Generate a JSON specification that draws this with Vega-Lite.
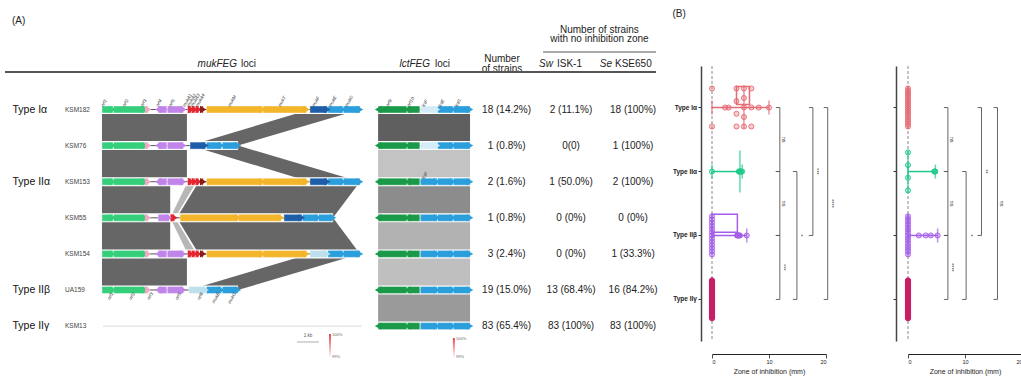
{
"$schema":"https://vega.github.io/schema/vega-lite/v6.json",
"padding":0,
"background":"white",
"config":{"view":{"stroke":null},"font":"Liberation Sans","axis":{"labelOverlap":false,"labelSeparation":0}},
"spacing":12,
"datasets":{
"links":[
{"id":"m1","r":0,"a":0,"b":3.86,"idn":99.8},{"id":"m1","r":1,"a":0,"b":3.86,"idn":99.8},
{"id":"m2","r":0,"a":9.45,"b":11.73,"idn":99.8},{"id":"m2","r":1,"a":4.0,"b":6.18,"idn":99.8},
{"id":"m3","r":1,"a":0,"b":3.86,"idn":99.8},{"id":"m3","r":2,"a":0,"b":3.86,"idn":99.8},
{"id":"m4","r":1,"a":4.0,"b":6.18,"idn":99.8},{"id":"m4","r":2,"a":9.45,"b":11.73,"idn":99.8},
{"id":"m5","r":2,"a":0,"b":3.1,"idn":99.8},{"id":"m5","r":3,"a":0,"b":3.1,"idn":99.8},
{"id":"m6","r":2,"a":3.9,"b":4.3,"idn":98.5},{"id":"m6","r":3,"a":3.1,"b":3.32,"idn":98.5},
{"id":"m7","r":2,"a":4.4,"b":11.73,"idn":99.8},{"id":"m7","r":3,"a":3.4,"b":10.5,"idn":99.8},
{"id":"m8","r":3,"a":0,"b":3.1,"idn":99.8},{"id":"m8","r":4,"a":0,"b":3.1,"idn":99.8},
{"id":"m9","r":3,"a":3.1,"b":3.32,"idn":98.5},{"id":"m9","r":4,"a":3.9,"b":4.3,"idn":98.5},
{"id":"m10","r":3,"a":3.4,"b":10.5,"idn":99.8},{"id":"m10","r":4,"a":4.4,"b":11.73,"idn":99.8},
{"id":"m11","r":4,"a":0,"b":3.86,"idn":99.8},{"id":"m11","r":5,"a":0,"b":3.86,"idn":99.8},
{"id":"m12","r":4,"a":9.45,"b":11.73,"idn":99.8},{"id":"m12","r":5,"a":3.95,"b":6.18,"idn":99.8},
{"id":"l1","r":0,"a":12.55,"b":16.73,"idn":99.92},{"id":"l1","r":1,"a":12.55,"b":16.73,"idn":99.92},
{"id":"l2","r":1,"a":12.55,"b":16.73,"idn":98.32},{"id":"l2","r":2,"a":12.55,"b":16.73,"idn":98.32},
{"id":"l3","r":2,"a":12.55,"b":16.73,"idn":99.17},{"id":"l3","r":3,"a":12.55,"b":16.73,"idn":99.17},
{"id":"l4","r":3,"a":12.55,"b":16.73,"idn":98.57},{"id":"l4","r":4,"a":12.55,"b":16.73,"idn":98.57},
{"id":"l5","r":4,"a":12.55,"b":16.73,"idn":98.38},{"id":"l5","r":5,"a":12.55,"b":16.73,"idn":98.38},
{"id":"l6","r":5,"a":12.55,"b":16.73,"idn":98.95},{"id":"l6","r":6,"a":12.55,"b":16.73,"idn":98.95}
],
"tracks":[
{"r":0,"s":0,"e":11.73,"locus":"muk"},{"r":1,"s":0,"e":6.18,"locus":"muk"},{"r":2,"s":0,"e":11.73,"locus":"muk"},
{"r":3,"s":0,"e":10.5,"locus":"muk"},{"r":4,"s":0,"e":11.73,"locus":"muk"},{"r":5,"s":0,"e":6.18,"locus":"muk"},
{"r":6,"s":0.05,"e":11.8,"locus":"muk"},
{"r":0,"s":12.55,"e":16.73,"locus":"lct"},{"r":1,"s":12.55,"e":16.73,"locus":"lct"},{"r":2,"s":12.55,"e":16.73,"locus":"lct"},
{"r":3,"s":12.55,"e":16.73,"locus":"lct"},{"r":4,"s":12.55,"e":16.73,"locus":"lct"},{"r":5,"s":12.55,"e":16.73,"locus":"lct"},
{"r":6,"s":12.55,"e":16.73,"locus":"lct"}
],
"genes":[
{"r":0,"s":0,"e":0.5,"d":"+","c":"green","lab":"top","name":"orf1"},
{"r":0,"s":0.52,"e":1.95,"d":"+","c":"green","lab":"top","name":"orf2"},
{"r":0,"s":2.0,"e":2.1,"d":"+","c":"pink","lab":"top","name":"orf3"},
{"r":0,"s":2.55,"e":2.95,"d":"-","c":"purple","lab":"top","name":"orf4"},
{"r":0,"s":2.97,"e":3.7,"d":"+","c":"purple","lab":"top","name":"orf5"},
{"r":0,"s":3.9,"e":4.05,"d":"+","c":"red","lab":"top","name":"mukA1"},
{"r":0,"s":4.1,"e":4.22,"d":"+","c":"red","lab":"top","name":"mukA2"},
{"r":0,"s":4.27,"e":4.4,"d":"+","c":"red","lab":"top","name":"mukA3"},
{"r":0,"s":4.52,"e":4.6,"d":"+","c":"darkred","lab":"top","name":"mukA4"},
{"r":0,"s":4.75,"e":7.3,"d":"+","c":"yellow","lab":"top","name":"mukM"},
{"r":0,"s":7.32,"e":9.3,"d":"+","c":"yellow","lab":"top","name":"mukT"},
{"r":0,"s":9.45,"e":10.25,"d":"+","c":"navy","lab":"top","name":"mukF"},
{"r":0,"s":10.27,"e":10.95,"d":"+","c":"blue","lab":"top","name":"mukE"},
{"r":0,"s":10.97,"e":11.73,"d":"+","c":"blue","lab":"top","name":"mukG"},
{"r":1,"s":0,"e":0.5,"d":"+","c":"green"},
{"r":1,"s":0.52,"e":1.95,"d":"+","c":"green"},
{"r":1,"s":2.0,"e":2.1,"d":"+","c":"pink"},
{"r":1,"s":2.55,"e":2.95,"d":"-","c":"purple"},
{"r":1,"s":2.97,"e":3.7,"d":"+","c":"purple"},
{"r":1,"s":4.0,"e":4.71,"d":"+","c":"navy"},
{"r":1,"s":4.75,"e":5.43,"d":"+","c":"blue"},
{"r":1,"s":5.47,"e":6.18,"d":"+","c":"blue"},
{"r":2,"s":0,"e":0.5,"d":"+","c":"green"},
{"r":2,"s":0.52,"e":1.95,"d":"+","c":"green"},
{"r":2,"s":2.0,"e":2.1,"d":"+","c":"pink"},
{"r":2,"s":2.55,"e":2.95,"d":"-","c":"purple"},
{"r":2,"s":2.97,"e":3.7,"d":"+","c":"purple"},
{"r":2,"s":3.9,"e":4.05,"d":"+","c":"red"},
{"r":2,"s":4.1,"e":4.22,"d":"+","c":"red"},
{"r":2,"s":4.27,"e":4.4,"d":"+","c":"red"},
{"r":2,"s":4.52,"e":4.6,"d":"+","c":"darkred"},
{"r":2,"s":4.75,"e":7.3,"d":"+","c":"yellow"},
{"r":2,"s":7.32,"e":9.3,"d":"+","c":"yellow"},
{"r":2,"s":9.45,"e":10.25,"d":"+","c":"navy"},
{"r":2,"s":10.27,"e":10.95,"d":"+","c":"blue"},
{"r":2,"s":10.97,"e":11.73,"d":"+","c":"blue"},
{"r":3,"s":0,"e":0.5,"d":"+","c":"green"},
{"r":3,"s":0.52,"e":1.95,"d":"+","c":"green"},
{"r":3,"s":2.0,"e":2.1,"d":"+","c":"pink"},
{"r":3,"s":2.55,"e":3.05,"d":"+","c":"purple"},
{"r":3,"s":3.1,"e":3.3,"d":"+","c":"red"},
{"r":3,"s":3.55,"e":6.18,"d":"+","c":"yellow"},
{"r":3,"s":6.2,"e":8.14,"d":"+","c":"yellow"},
{"r":3,"s":8.27,"e":9.09,"d":"+","c":"navy"},
{"r":3,"s":9.11,"e":9.82,"d":"+","c":"blue"},
{"r":3,"s":9.84,"e":10.5,"d":"+","c":"blue"},
{"r":4,"s":0,"e":0.5,"d":"+","c":"green"},
{"r":4,"s":0.52,"e":1.95,"d":"+","c":"green"},
{"r":4,"s":2.0,"e":2.1,"d":"+","c":"pink"},
{"r":4,"s":2.55,"e":2.95,"d":"-","c":"purple"},
{"r":4,"s":2.97,"e":3.7,"d":"+","c":"purple"},
{"r":4,"s":3.9,"e":4.05,"d":"+","c":"red"},
{"r":4,"s":4.1,"e":4.22,"d":"+","c":"red"},
{"r":4,"s":4.27,"e":4.4,"d":"+","c":"red"},
{"r":4,"s":4.52,"e":4.6,"d":"+","c":"darkred"},
{"r":4,"s":4.75,"e":7.3,"d":"+","c":"yellow"},
{"r":4,"s":7.32,"e":9.3,"d":"+","c":"yellow"},
{"r":4,"s":9.45,"e":10.25,"d":"+","c":"pale"},
{"r":4,"s":10.27,"e":10.95,"d":"+","c":"blue"},
{"r":4,"s":10.97,"e":11.73,"d":"+","c":"blue"},
{"r":5,"s":0,"e":0.5,"d":"+","c":"green","lab":"bot","name":"orf1"},
{"r":5,"s":0.52,"e":1.95,"d":"+","c":"green","lab":"bot","name":"orf2"},
{"r":5,"s":2.0,"e":2.1,"d":"+","c":"pink","lab":"bot","name":"orf3"},
{"r":5,"s":2.55,"e":2.95,"d":"-","c":"purple"},
{"r":5,"s":2.97,"e":3.7,"d":"+","c":"purple","lab":"bot","name":"orf5"},
{"r":5,"s":3.95,"e":4.71,"d":"+","c":"pale","lab":"bot","name":"orf6"},
{"r":5,"s":4.75,"e":5.43,"d":"+","c":"blue","lab":"bot","name":"mukE"},
{"r":5,"s":5.47,"e":6.18,"d":"+","c":"blue","lab":"bot","name":"mukG"},
{"r":0,"s":12.55,"e":13.86,"d":"-","c":"lctgreen","lab":"top","name":"orf9"},
{"r":0,"s":13.88,"e":14.45,"d":"-","c":"lctgreen","lab":"top","name":"orf10"},
{"r":0,"s":14.47,"e":15.23,"d":"+","c":"hatch","lab":"top","name":"lctF"},
{"r":0,"s":15.25,"e":15.95,"d":"+","c":"blue","lab":"top","name":"lctE"},
{"r":0,"s":15.97,"e":16.73,"d":"+","c":"blue","lab":"top","name":"lctG"},
{"r":1,"s":12.55,"e":13.86,"d":"-","c":"lctgreen"},
{"r":1,"s":13.88,"e":14.45,"d":"-","c":"lctgreen"},
{"r":1,"s":14.47,"e":15.23,"d":"+","c":"hatch"},
{"r":1,"s":15.25,"e":15.95,"d":"+","c":"blue"},
{"r":1,"s":15.97,"e":16.73,"d":"+","c":"blue"},
{"r":2,"s":12.55,"e":13.86,"d":"-","c":"lctgreen"},
{"r":2,"s":13.88,"e":14.45,"d":"-","c":"lctgreen"},
{"r":2,"s":14.47,"e":15.23,"d":"+","c":"blue","lab":"top","name":"lctF"},
{"r":2,"s":15.25,"e":15.95,"d":"+","c":"blue"},
{"r":2,"s":15.97,"e":16.73,"d":"+","c":"blue"},
{"r":3,"s":12.55,"e":13.86,"d":"-","c":"lctgreen"},
{"r":3,"s":13.88,"e":14.45,"d":"-","c":"lctgreen"},
{"r":3,"s":14.47,"e":15.23,"d":"+","c":"blue"},
{"r":3,"s":15.25,"e":15.95,"d":"+","c":"blue"},
{"r":3,"s":15.97,"e":16.73,"d":"+","c":"blue"},
{"r":4,"s":12.55,"e":13.86,"d":"-","c":"lctgreen"},
{"r":4,"s":13.88,"e":14.45,"d":"-","c":"lctgreen"},
{"r":4,"s":14.47,"e":15.23,"d":"+","c":"blue"},
{"r":4,"s":15.25,"e":15.95,"d":"+","c":"blue"},
{"r":4,"s":15.97,"e":16.73,"d":"+","c":"blue"},
{"r":5,"s":12.55,"e":13.86,"d":"-","c":"lctgreen"},
{"r":5,"s":13.88,"e":14.45,"d":"-","c":"lctgreen"},
{"r":5,"s":14.47,"e":15.23,"d":"+","c":"blue"},
{"r":5,"s":15.25,"e":15.95,"d":"+","c":"blue"},
{"r":5,"s":15.97,"e":16.73,"d":"+","c":"blue"},
{"r":6,"s":12.55,"e":13.86,"d":"-","c":"lctgreen"},
{"r":6,"s":13.88,"e":14.45,"d":"-","c":"lctgreen"},
{"r":6,"s":14.47,"e":15.23,"d":"+","c":"blue"},
{"r":6,"s":15.25,"e":15.95,"d":"+","c":"blue"},
{"r":6,"s":15.97,"e":16.73,"d":"+","c":"blue"}
],
"strains":[
{"r":0,"strain":"KSM182","type":"Type Iα","n":"18 (14.2%)","sw":"2 (11.1%)","se":"18 (100%)"},
{"r":1,"strain":"KSM76","type":"","n":"1 (0.8%)","sw":"0(0)","se":"1 (100%)"},
{"r":2,"strain":"KSM153","type":"Type IIα","n":"2 (1.6%)","sw":"1 (50.0%)","se":"2 (100%)"},
{"r":3,"strain":"KSM55","type":"","n":"1 (0.8%)","sw":"0 (0%)","se":"0 (0%)"},
{"r":4,"strain":"KSM154","type":"","n":"3 (2.4%)","sw":"0 (0%)","se":"1 (33.3%)"},
{"r":5,"strain":"UA159","type":"Type IIβ","n":"19 (15.0%)","sw":"13 (68.4%)","se":"16 (84.2%)"},
{"r":6,"strain":"KSM13","type":"Type IIγ","n":"83 (65.4%)","sw":"83 (100%)","se":"83 (100%)"}
],
"brk":[
{"p":"Sw","id":"s1","ya":0,"yb":1,"x":11.9,"lab":"ns"},
{"p":"Sw","id":"s2","ya":1,"yb":2,"x":11.9,"lab":"ns"},
{"p":"Sw","id":"s3","ya":2,"yb":3,"x":11.9,"lab":"***"},
{"p":"Sw","id":"s4","ya":1,"yb":3,"x":14.9,"lab":"*"},
{"p":"Sw","id":"s5","ya":0,"yb":2,"x":17.7,"lab":"***"},
{"p":"Sw","id":"s6","ya":0,"yb":3,"x":20.3,"lab":"****"},
{"p":"Se","id":"e1","ya":0,"yb":1,"x":7.0,"lab":"ns"},
{"p":"Se","id":"e2","ya":1,"yb":2,"x":7.0,"lab":"ns"},
{"p":"Se","id":"e3","ya":2,"yb":3,"x":7.0,"lab":"****"},
{"p":"Se","id":"e4","ya":1,"yb":3,"x":10.2,"lab":"*"},
{"p":"Se","id":"e5","ya":0,"yb":2,"x":12.9,"lab":"**"},
{"p":"Se","id":"e6","ya":0,"yb":3,"x":15.7,"lab":"ns"}
],
"pts":[
{"p":"Sw","g":"Type Iα","v":0},{"p":"Sw","g":"Type Iα","v":0},{"p":"Sw","g":"Type Iα","v":2.3},{"p":"Sw","g":"Type Iα","v":2.9},
{"p":"Sw","g":"Type Iα","v":4.3},{"p":"Sw","g":"Type Iα","v":4.3},{"p":"Sw","g":"Type Iα","v":4.3},{"p":"Sw","g":"Type Iα","v":4.3},
{"p":"Sw","g":"Type Iα","v":5.6},{"p":"Sw","g":"Type Iα","v":5.6},{"p":"Sw","g":"Type Iα","v":5.6},{"p":"Sw","g":"Type Iα","v":5.6},{"p":"Sw","g":"Type Iα","v":5.6},
{"p":"Sw","g":"Type Iα","v":6.9},{"p":"Sw","g":"Type Iα","v":6.9},{"p":"Sw","g":"Type Iα","v":6.9},{"p":"Sw","g":"Type Iα","v":8.2},{"p":"Sw","g":"Type Iα","v":10.0},
{"p":"Sw","g":"Type IIα","v":0},{"p":"Sw","g":"Type IIα","v":4.7},{"p":"Sw","g":"Type IIα","v":4.8},{"p":"Sw","g":"Type IIα","v":4.9},{"p":"Sw","g":"Type IIα","v":5.0},{"p":"Sw","g":"Type IIα","v":5.1},{"p":"Sw","g":"Type IIα","v":5.3},
{"p":"Sw","g":"Type IIβ","v":0},{"p":"Sw","g":"Type IIβ","v":0},{"p":"Sw","g":"Type IIβ","v":0},{"p":"Sw","g":"Type IIβ","v":0},{"p":"Sw","g":"Type IIβ","v":0},
{"p":"Sw","g":"Type IIβ","v":0},{"p":"Sw","g":"Type IIβ","v":0},{"p":"Sw","g":"Type IIβ","v":0},{"p":"Sw","g":"Type IIβ","v":0},{"p":"Sw","g":"Type IIβ","v":0},
{"p":"Sw","g":"Type IIβ","v":0},{"p":"Sw","g":"Type IIβ","v":0},{"p":"Sw","g":"Type IIβ","v":0},
{"p":"Sw","g":"Type IIβ","v":4.4},{"p":"Sw","g":"Type IIβ","v":4.5},{"p":"Sw","g":"Type IIβ","v":4.6},{"p":"Sw","g":"Type IIβ","v":4.8},{"p":"Sw","g":"Type IIβ","v":4.9},{"p":"Sw","g":"Type IIβ","v":6.1},
{"p":"Sw","g":"Type IIγ","v":0},{"p":"Sw","g":"Type IIγ","v":0},{"p":"Sw","g":"Type IIγ","v":0},{"p":"Sw","g":"Type IIγ","v":0},{"p":"Sw","g":"Type IIγ","v":0},{"p":"Sw","g":"Type IIγ","v":0},{"p":"Sw","g":"Type IIγ","v":0},{"p":"Sw","g":"Type IIγ","v":0},{"p":"Sw","g":"Type IIγ","v":0},{"p":"Sw","g":"Type IIγ","v":0},
{"p":"Sw","g":"Type IIγ","v":0},{"p":"Sw","g":"Type IIγ","v":0},{"p":"Sw","g":"Type IIγ","v":0},{"p":"Sw","g":"Type IIγ","v":0},{"p":"Sw","g":"Type IIγ","v":0},{"p":"Sw","g":"Type IIγ","v":0},{"p":"Sw","g":"Type IIγ","v":0},{"p":"Sw","g":"Type IIγ","v":0},{"p":"Sw","g":"Type IIγ","v":0},{"p":"Sw","g":"Type IIγ","v":0},
{"p":"Sw","g":"Type IIγ","v":0},{"p":"Sw","g":"Type IIγ","v":0},{"p":"Sw","g":"Type IIγ","v":0},{"p":"Sw","g":"Type IIγ","v":0},{"p":"Sw","g":"Type IIγ","v":0},{"p":"Sw","g":"Type IIγ","v":0},{"p":"Sw","g":"Type IIγ","v":0},{"p":"Sw","g":"Type IIγ","v":0},{"p":"Sw","g":"Type IIγ","v":0},{"p":"Sw","g":"Type IIγ","v":0},
{"p":"Sw","g":"Type IIγ","v":0},{"p":"Sw","g":"Type IIγ","v":0},{"p":"Sw","g":"Type IIγ","v":0},{"p":"Sw","g":"Type IIγ","v":0},{"p":"Sw","g":"Type IIγ","v":0},{"p":"Sw","g":"Type IIγ","v":0},{"p":"Sw","g":"Type IIγ","v":0},{"p":"Sw","g":"Type IIγ","v":0},{"p":"Sw","g":"Type IIγ","v":0},{"p":"Sw","g":"Type IIγ","v":0},
{"p":"Sw","g":"Type IIγ","v":0},{"p":"Sw","g":"Type IIγ","v":0},{"p":"Sw","g":"Type IIγ","v":0},{"p":"Sw","g":"Type IIγ","v":0},{"p":"Sw","g":"Type IIγ","v":0},{"p":"Sw","g":"Type IIγ","v":0},{"p":"Sw","g":"Type IIγ","v":0},{"p":"Sw","g":"Type IIγ","v":0},{"p":"Sw","g":"Type IIγ","v":0},{"p":"Sw","g":"Type IIγ","v":0},
{"p":"Sw","g":"Type IIγ","v":0},{"p":"Sw","g":"Type IIγ","v":0},{"p":"Sw","g":"Type IIγ","v":0},{"p":"Sw","g":"Type IIγ","v":0},{"p":"Sw","g":"Type IIγ","v":0},{"p":"Sw","g":"Type IIγ","v":0},{"p":"Sw","g":"Type IIγ","v":0},{"p":"Sw","g":"Type IIγ","v":0},{"p":"Sw","g":"Type IIγ","v":0},{"p":"Sw","g":"Type IIγ","v":0},
{"p":"Sw","g":"Type IIγ","v":0},{"p":"Sw","g":"Type IIγ","v":0},{"p":"Sw","g":"Type IIγ","v":0},{"p":"Sw","g":"Type IIγ","v":0},{"p":"Sw","g":"Type IIγ","v":0},{"p":"Sw","g":"Type IIγ","v":0},{"p":"Sw","g":"Type IIγ","v":0},{"p":"Sw","g":"Type IIγ","v":0},{"p":"Sw","g":"Type IIγ","v":0},{"p":"Sw","g":"Type IIγ","v":0},
{"p":"Sw","g":"Type IIγ","v":0},{"p":"Sw","g":"Type IIγ","v":0},{"p":"Sw","g":"Type IIγ","v":0},
{"p":"Se","g":"Type Iα","v":0},{"p":"Se","g":"Type Iα","v":0},{"p":"Se","g":"Type Iα","v":0},{"p":"Se","g":"Type Iα","v":0},{"p":"Se","g":"Type Iα","v":0},{"p":"Se","g":"Type Iα","v":0},
{"p":"Se","g":"Type Iα","v":0},{"p":"Se","g":"Type Iα","v":0},{"p":"Se","g":"Type Iα","v":0},{"p":"Se","g":"Type Iα","v":0},{"p":"Se","g":"Type Iα","v":0},{"p":"Se","g":"Type Iα","v":0},
{"p":"Se","g":"Type Iα","v":0},{"p":"Se","g":"Type Iα","v":0},{"p":"Se","g":"Type Iα","v":0},{"p":"Se","g":"Type Iα","v":0},{"p":"Se","g":"Type Iα","v":0},{"p":"Se","g":"Type Iα","v":0},
{"p":"Se","g":"Type IIα","v":0},{"p":"Se","g":"Type IIα","v":0},{"p":"Se","g":"Type IIα","v":0},{"p":"Se","g":"Type IIα","v":0},{"p":"Se","g":"Type IIα","v":4.6},{"p":"Se","g":"Type IIα","v":4.7},{"p":"Se","g":"Type IIα","v":4.8},
{"p":"Se","g":"Type IIβ","v":0},{"p":"Se","g":"Type IIβ","v":0},{"p":"Se","g":"Type IIβ","v":0},{"p":"Se","g":"Type IIβ","v":0},{"p":"Se","g":"Type IIβ","v":0},
{"p":"Se","g":"Type IIβ","v":0},{"p":"Se","g":"Type IIβ","v":0},{"p":"Se","g":"Type IIβ","v":0},{"p":"Se","g":"Type IIβ","v":0},{"p":"Se","g":"Type IIβ","v":0},
{"p":"Se","g":"Type IIβ","v":0},{"p":"Se","g":"Type IIβ","v":0},{"p":"Se","g":"Type IIβ","v":0},{"p":"Se","g":"Type IIβ","v":0},{"p":"Se","g":"Type IIβ","v":0},
{"p":"Se","g":"Type IIβ","v":1.9},{"p":"Se","g":"Type IIβ","v":3.1},{"p":"Se","g":"Type IIβ","v":4.0},{"p":"Se","g":"Type IIβ","v":5.2},
{"p":"Se","g":"Type IIγ","v":0},{"p":"Se","g":"Type IIγ","v":0},{"p":"Se","g":"Type IIγ","v":0},{"p":"Se","g":"Type IIγ","v":0},{"p":"Se","g":"Type IIγ","v":0},{"p":"Se","g":"Type IIγ","v":0},{"p":"Se","g":"Type IIγ","v":0},{"p":"Se","g":"Type IIγ","v":0},{"p":"Se","g":"Type IIγ","v":0},{"p":"Se","g":"Type IIγ","v":0},
{"p":"Se","g":"Type IIγ","v":0},{"p":"Se","g":"Type IIγ","v":0},{"p":"Se","g":"Type IIγ","v":0},{"p":"Se","g":"Type IIγ","v":0},{"p":"Se","g":"Type IIγ","v":0},{"p":"Se","g":"Type IIγ","v":0},{"p":"Se","g":"Type IIγ","v":0},{"p":"Se","g":"Type IIγ","v":0},{"p":"Se","g":"Type IIγ","v":0},{"p":"Se","g":"Type IIγ","v":0},
{"p":"Se","g":"Type IIγ","v":0},{"p":"Se","g":"Type IIγ","v":0},{"p":"Se","g":"Type IIγ","v":0},{"p":"Se","g":"Type IIγ","v":0},{"p":"Se","g":"Type IIγ","v":0},{"p":"Se","g":"Type IIγ","v":0},{"p":"Se","g":"Type IIγ","v":0},{"p":"Se","g":"Type IIγ","v":0},{"p":"Se","g":"Type IIγ","v":0},{"p":"Se","g":"Type IIγ","v":0},
{"p":"Se","g":"Type IIγ","v":0},{"p":"Se","g":"Type IIγ","v":0},{"p":"Se","g":"Type IIγ","v":0},{"p":"Se","g":"Type IIγ","v":0},{"p":"Se","g":"Type IIγ","v":0},{"p":"Se","g":"Type IIγ","v":0},{"p":"Se","g":"Type IIγ","v":0},{"p":"Se","g":"Type IIγ","v":0},{"p":"Se","g":"Type IIγ","v":0},{"p":"Se","g":"Type IIγ","v":0},
{"p":"Se","g":"Type IIγ","v":0},{"p":"Se","g":"Type IIγ","v":0},{"p":"Se","g":"Type IIγ","v":0},{"p":"Se","g":"Type IIγ","v":0},{"p":"Se","g":"Type IIγ","v":0},{"p":"Se","g":"Type IIγ","v":0},{"p":"Se","g":"Type IIγ","v":0},{"p":"Se","g":"Type IIγ","v":0},{"p":"Se","g":"Type IIγ","v":0},{"p":"Se","g":"Type IIγ","v":0},
{"p":"Se","g":"Type IIγ","v":0},{"p":"Se","g":"Type IIγ","v":0},{"p":"Se","g":"Type IIγ","v":0},{"p":"Se","g":"Type IIγ","v":0},{"p":"Se","g":"Type IIγ","v":0},{"p":"Se","g":"Type IIγ","v":0},{"p":"Se","g":"Type IIγ","v":0},{"p":"Se","g":"Type IIγ","v":0},{"p":"Se","g":"Type IIγ","v":0},{"p":"Se","g":"Type IIγ","v":0},
{"p":"Se","g":"Type IIγ","v":0},{"p":"Se","g":"Type IIγ","v":0},{"p":"Se","g":"Type IIγ","v":0},{"p":"Se","g":"Type IIγ","v":0},{"p":"Se","g":"Type IIγ","v":0},{"p":"Se","g":"Type IIγ","v":0},{"p":"Se","g":"Type IIγ","v":0},{"p":"Se","g":"Type IIγ","v":0},{"p":"Se","g":"Type IIγ","v":0},{"p":"Se","g":"Type IIγ","v":0},
{"p":"Se","g":"Type IIγ","v":0},{"p":"Se","g":"Type IIγ","v":0},{"p":"Se","g":"Type IIγ","v":0},{"p":"Se","g":"Type IIγ","v":0},{"p":"Se","g":"Type IIγ","v":0},{"p":"Se","g":"Type IIγ","v":0},{"p":"Se","g":"Type IIγ","v":0},{"p":"Se","g":"Type IIγ","v":0},{"p":"Se","g":"Type IIγ","v":0},{"p":"Se","g":"Type IIγ","v":0},
{"p":"Se","g":"Type IIγ","v":0},{"p":"Se","g":"Type IIγ","v":0},{"p":"Se","g":"Type IIγ","v":0}
]
},
"hconcat":[
{
"width":660,"height":315,
"layer":[
{"data":{"name":"links"},"mark":{"type":"area","orient":"horizontal"},
 "encoding":{
  "y":{"field":"r","type":"quantitative","scale":{"domain":[-1.205,7.5208],"reverse":true,"nice":false,"zero":false},"axis":null},
  "x":{"field":"a","type":"quantitative","scale":{"domain":[-4.636,25.364],"nice":false,"zero":false},"axis":null},
  "x2":{"field":"b"},
  "detail":{"field":"id"},
  "color":{"field":"idn","type":"quantitative","scale":{"domain":[98,100],"range":["#d8d8d8","#5a5a5a"]},"legend":null}}},
{"data":{"name":"tracks"},"mark":{"type":"rule","strokeWidth":9,"color":"white"},
 "encoding":{"y":{"field":"r","type":"quantitative"},"x":{"field":"s","type":"quantitative"},"x2":{"field":"e"}}},
{"data":{"name":"tracks"},"mark":{"type":"rule","strokeWidth":1},
 "encoding":{"y":{"field":"r","type":"quantitative"},"x":{"field":"s","type":"quantitative"},"x2":{"field":"e"},
  "color":{"condition":{"test":"datum.r === 6 && datum.locus === 'muk'","value":"#d9d9d9"},"value":"#555555"}}},
{"data":{"name":"genes"},"mark":{"type":"rect","height":7,"stroke":"white","strokeWidth":0.4},
 "encoding":{"y":{"field":"r","type":"quantitative"},"x":{"field":"s","type":"quantitative"},"x2":{"field":"e"},
  "fill":{"field":"c","type":"nominal","scale":{"domain":["green","pink","purple","red","darkred","yellow","navy","blue","pale","lctgreen","hatch"],"range":["#35cf7c","#f2a7c3","#c084ea","#e3262f","#8b1a1a","#f3b52a","#1e5ea8","#2b9fdc","#bde0ec","#1a9a48","#d4ecf7"]},"legend":null}}},
{"data":{"name":"genes"},"transform":[{"filter":"datum.d === '+'"}],"mark":{"type":"point","shape":"triangle-right","filled":true,"size":55,"opacity":1,"strokeWidth":0},
 "encoding":{"y":{"field":"r","type":"quantitative"},"x":{"field":"e","type":"quantitative"},"fill":{"field":"c","type":"nominal","legend":null}}},
{"data":{"name":"genes"},"transform":[{"filter":"datum.d === '-'"}],"mark":{"type":"point","shape":"triangle-left","filled":true,"size":55,"opacity":1,"strokeWidth":0},
 "encoding":{"y":{"field":"r","type":"quantitative"},"x":{"field":"s","type":"quantitative"},"fill":{"field":"c","type":"nominal","legend":null}}},
{"data":{"name":"genes"},"transform":[{"filter":"datum.lab === 'top'"},{"fold":["s","e"],"as":["k","pos"]}],
 "mark":{"type":"text","angle":-60,"align":"left","baseline":"middle","dy":-6,"fontSize":4.5,"fontStyle":"italic","color":"#333"},
 "encoding":{"x":{"aggregate":"mean","field":"pos","type":"quantitative"},"y":{"field":"r","type":"quantitative"},"text":{"field":"name"},"detail":{"field":"name"}}},
{"data":{"name":"genes"},"transform":[{"filter":"datum.lab === 'bot'"},{"fold":["s","e"],"as":["k","pos"]}],
 "mark":{"type":"text","angle":-60,"align":"right","baseline":"middle","dy":6,"fontSize":4.5,"fontStyle":"italic","color":"#333"},
 "encoding":{"x":{"aggregate":"mean","field":"pos","type":"quantitative"},"y":{"field":"r","type":"quantitative"},"text":{"field":"name"},"detail":{"field":"name"}}},
{"data":{"name":"strains"},"transform":[{"filter":"datum.type !== ''"}],"mark":{"type":"text","align":"left","baseline":"middle","fontSize":10.5,"color":"#111"},
 "encoding":{"x":{"datum":-4.07},"y":{"field":"r","type":"quantitative"},"text":{"field":"type"}}},
{"data":{"name":"strains"},"mark":{"type":"text","align":"left","baseline":"middle","fontSize":6.5,"color":"#444"},
 "encoding":{"x":{"datum":-1.68},"y":{"field":"r","type":"quantitative"},"text":{"field":"strain"}}},
{"data":{"name":"strains"},"mark":{"type":"text","align":"center","baseline":"middle","fontSize":10,"color":"#222"},
 "encoding":{"x":{"datum":18.39},"y":{"field":"r","type":"quantitative"},"text":{"field":"n"}}},
{"data":{"name":"strains"},"mark":{"type":"text","align":"center","baseline":"middle","fontSize":10,"color":"#222"},
 "encoding":{"x":{"datum":21.32},"y":{"field":"r","type":"quantitative"},"text":{"field":"sw"}}},
{"data":{"name":"strains"},"mark":{"type":"text","align":"center","baseline":"middle","fontSize":10,"color":"#222"},
 "encoding":{"x":{"datum":24.14},"y":{"field":"r","type":"quantitative"},"text":{"field":"se"}}},
{"data":{"values":[{}]},"mark":{"type":"text","text":"(A)","align":"left","baseline":"middle","fontSize":10,"color":"#222"},
 "encoding":{"x":{"datum":-4.09},"y":{"datum":-2.452}}},
{"data":{"values":[{}]},"mark":{"type":"text","text":"mukFEG","align":"right","baseline":"middle","fontSize":10,"fontStyle":"italic","color":"#222"},
 "encoding":{"x":{"datum":6.14},"y":{"datum":-1.26}}},
{"data":{"values":[{}]},"mark":{"type":"text","text":"loci","align":"left","baseline":"middle","fontSize":10,"color":"#222"},
 "encoding":{"x":{"datum":6.32},"y":{"datum":-1.26}}},
{"data":{"values":[{}]},"mark":{"type":"text","text":"lctFEG","align":"right","baseline":"middle","fontSize":10,"fontStyle":"italic","color":"#222"},
 "encoding":{"x":{"datum":14.91},"y":{"datum":-1.26}}},
{"data":{"values":[{}]},"mark":{"type":"text","text":"loci","align":"left","baseline":"middle","fontSize":10,"color":"#222"},
 "encoding":{"x":{"datum":15.14},"y":{"datum":-1.26}}},
{"data":{"values":[{}]},"mark":{"type":"text","text":["Number","of strains"],"lineHeight":10.5,"align":"center","baseline":"middle","fontSize":10,"color":"#222"},
 "encoding":{"x":{"datum":18.18},"y":{"datum":-1.41}}},
{"data":{"values":[{}]},"mark":{"type":"text","text":["Number of strains","with no inhibition zone"],"lineHeight":9,"align":"center","baseline":"middle","fontSize":10,"color":"#222"},
 "encoding":{"x":{"datum":22.61},"y":{"datum":-2.2}}},
{"data":{"values":[{}]},"mark":{"type":"text","text":"Sw","align":"right","baseline":"middle","fontSize":10,"fontStyle":"italic","color":"#222"},
 "encoding":{"x":{"datum":20.5},"y":{"datum":-1.26}}},
{"data":{"values":[{}]},"mark":{"type":"text","text":"ISK-1","align":"left","baseline":"middle","fontSize":10,"color":"#222"},
 "encoding":{"x":{"datum":20.68},"y":{"datum":-1.26}}},
{"data":{"values":[{}]},"mark":{"type":"text","text":"Se","align":"right","baseline":"middle","fontSize":10,"fontStyle":"italic","color":"#222"},
 "encoding":{"x":{"datum":23.18},"y":{"datum":-1.26}}},
{"data":{"values":[{}]},"mark":{"type":"text","text":"KSE650","align":"left","baseline":"middle","fontSize":10,"color":"#222"},
 "encoding":{"x":{"datum":23.32},"y":{"datum":-1.26}}},
{"data":{"values":[{}]},"mark":{"type":"rule","strokeWidth":2,"color":"#555555"},
 "encoding":{"x":{"datum":-4.41},"x2":{"datum":25.18},"y":{"datum":-1.039}}},
{"data":{"values":[{}]},"mark":{"type":"rule","strokeWidth":1.2,"color":"#555555"},
 "encoding":{"x":{"datum":20.05},"x2":{"datum":25.18},"y":{"datum":-1.593}}},
{"data":{"values":[{}]},"mark":{"type":"rule","strokeWidth":0.8,"color":"#999999"},
 "encoding":{"x":{"datum":8.86},"x2":{"datum":9.86},"y":{"datum":6.44}}},
{"data":{"values":[{}]},"mark":{"type":"text","text":"1 kb","align":"center","baseline":"middle","fontSize":4.5,"color":"#555"},
 "encoding":{"x":{"datum":9.36},"y":{"datum":6.28}}},
{"data":{"values":[{}]},"mark":{"type":"rect","color":{"gradient":"linear","x1":0,"y1":0,"x2":0,"y2":1,"stops":[{"offset":0,"color":"#e8404a"},{"offset":1,"color":"#ffffff"}]}},
 "encoding":{"x":{"datum":10.32},"x2":{"datum":10.41},"y":{"datum":6.22},"y2":{"datum":6.88}}},
{"data":{"values":[{}]},"mark":{"type":"rect","color":{"gradient":"linear","x1":0,"y1":0,"x2":0,"y2":1,"stops":[{"offset":0,"color":"#e8404a"},{"offset":1,"color":"#ffffff"}]}},
 "encoding":{"x":{"datum":15.95},"x2":{"datum":16.04},"y":{"datum":6.33},"y2":{"datum":6.88}}},
{"data":{"values":[{}]},"mark":{"type":"text","text":"100%","align":"left","baseline":"middle","fontSize":4,"color":"#666"},
 "encoding":{"x":{"datum":10.46},"y":{"datum":6.26}}},
{"data":{"values":[{}]},"mark":{"type":"text","text":"99%","align":"left","baseline":"middle","fontSize":4,"color":"#666"},
 "encoding":{"x":{"datum":10.46},"y":{"datum":6.86}}},
{"data":{"values":[{}]},"mark":{"type":"text","text":"100%","align":"left","baseline":"middle","fontSize":4,"color":"#666"},
 "encoding":{"x":{"datum":16.09},"y":{"datum":6.36}}},
{"data":{"values":[{}]},"mark":{"type":"text","text":"99%","align":"left","baseline":"middle","fontSize":4,"color":"#666"},
 "encoding":{"x":{"datum":16.09},"y":{"datum":6.86}}}
]
},
{
"title":{"text":[" ","(B)"],"anchor":"start","fontSize":10,"fontWeight":"normal","lineHeight":8,"offset":47,"color":"#222"},
"bounds":"flush",
"spacing":82,
"hconcat":[
{
"width":114,"height":275,
"layer":[
{"data":{"name":"pts"},
 "transform":[{"filter":{"field":"p","equal":"Sw"}},{"window":[{"op":"row_number","as":"rn"}]},{"joinaggregate":[{"op":"count","as":"nt"}],"groupby":["g","v"]},{"window":[{"op":"percent_rank","as":"pr"}],"sort":[{"field":"rn","order":"ascending"}],"groupby":["g","v"]}],
 "layer":[
  {"mark":{"type":"rule","color":"#c4c4c4","strokeDash":[3,2],"strokeWidth":1},
   "encoding":{"x":{"datum":0,"type":"quantitative","scale":{"domain":[0,20],"nice":false,"zero":false}}}},
  {"transform":[{"aggregate":[{"op":"q1","field":"v","as":"q1"},{"op":"q3","field":"v","as":"q3"}],"groupby":["g"]},{"filter":"datum.g !== 'Type IIα'"}],
   "mark":{"type":"bar","filled":false,"strokeWidth":1.5},
   "encoding":{"y":{"field":"g","type":"nominal","scale":{"type":"band","domain":["Type Iα","Type IIα","Type IIβ","Type IIγ"],"paddingInner":0.34,"paddingOuter":0.32},
     "axis":{"title":null,"offset":11,"domainColor":"#444","domainWidth":1.5,"tickColor":"#333","tickSize":3,"tickWidth":1,"labelFontSize":6.5,"labelFontWeight":"bold","labelColor":"#222","labelPadding":1.5}},
    "x":{"field":"q1","type":"quantitative"},"x2":{"field":"q3"},
    "color":{"field":"g","type":"nominal","scale":{"domain":["Type Iα","Type IIα","Type IIβ","Type IIγ"],"range":["#e56b74","#1fc98a","#a45ee8","#c71e67"]},"legend":null}}},
  {"transform":[{"aggregate":[{"op":"min","field":"v","as":"lo"},{"op":"max","field":"v","as":"hi"}],"groupby":["g"]}],
   "mark":{"type":"rule","strokeWidth":1.5},
   "encoding":{"y":{"field":"g","type":"nominal"},
    "x":{"field":"lo","type":"quantitative","axis":{"title":"Zone of inhibition (mm)","titleFontSize":7,"titleFontWeight":"normal","titlePadding":3,"titleColor":"#222","offset":13,"values":[0,5,10,15,20],"labelOverlap":false,"labelSeparation":0,"labelFontSize":5.5,"labelPadding":1,"labelColor":"#222","tickSize":4,"tickColor":"#222","tickWidth":0.8,"domainColor":"#222","domainWidth":1,"grid":false}},
    "x2":{"field":"hi"},"color":{"field":"g","type":"nominal","legend":null}}},
  {"transform":[{"aggregate":[{"op":"min","field":"v","as":"lo"},{"op":"max","field":"v","as":"hi"}],"groupby":["g"]},{"fold":["lo","hi"],"as":["k","w"]}],
   "mark":{"type":"tick","size":14,"thickness":1.5},
   "encoding":{"y":{"field":"g","type":"nominal"},"x":{"field":"w","type":"quantitative"},"color":{"field":"g","type":"nominal","legend":null}}},
  {"transform":[{"aggregate":[{"op":"median","field":"v","as":"med"}],"groupby":["g"]}],
   "mark":{"type":"tick","size":42,"thickness":1.5},
   "encoding":{"y":{"field":"g","type":"nominal"},"x":{"field":"med","type":"quantitative"},"color":{"field":"g","type":"nominal","legend":null}}},
  {"transform":[{"filter":"datum.nt > 1"}],
   "mark":{"type":"point","shape":"circle","filled":true,"size":26,"strokeWidth":0,"opacity":0.35},
   "encoding":{"y":{"field":"g","type":"nominal"},"x":{"field":"v","type":"quantitative"},
    "yOffset":{"field":"pr","type":"quantitative","scale":{"domain":[0,1],"range":[2,40]}},
    "color":{"field":"g","type":"nominal","legend":null}}},
  {"transform":[{"filter":"datum.nt > 1"}],
   "mark":{"type":"point","shape":"circle","filled":false,"size":26,"strokeWidth":0.9,"opacity":1},
   "encoding":{"y":{"field":"g","type":"nominal"},"x":{"field":"v","type":"quantitative"},
    "yOffset":{"field":"pr","type":"quantitative"},
    "color":{"field":"g","type":"nominal","legend":null}}},
  {"transform":[{"filter":"datum.nt === 1"}],
   "mark":{"type":"point","shape":"circle","filled":true,"size":26,"strokeWidth":0,"opacity":0.35},
   "encoding":{"y":{"field":"g","type":"nominal"},"x":{"field":"v","type":"quantitative"},"color":{"field":"g","type":"nominal","legend":null}}},
  {"transform":[{"filter":"datum.nt === 1"}],
   "mark":{"type":"point","shape":"circle","filled":false,"size":26,"strokeWidth":0.9,"opacity":1},
   "encoding":{"y":{"field":"g","type":"nominal"},"x":{"field":"v","type":"quantitative"},"color":{"field":"g","type":"nominal","legend":null}}}
 ]},
{"data":{"name":"brk"},
 "transform":[{"filter":{"field":"p","equal":"Sw"}}],
 "layer":[
  {"mark":{"type":"rule","color":"#555","strokeWidth":0.9},
   "encoding":{"x":{"field":"x","type":"quantitative","scale":{"domain":[0,20],"nice":false,"zero":false}},"y":{"field":"ya","type":"quantitative","scale":{"domain":[-0.65,3.65],"reverse":true,"nice":false,"zero":false},"axis":null},"y2":{"field":"yb"}}},
  {"transform":[{"fold":["ya","yb"],"as":["k","yv"]}],
   "mark":{"type":"point","shape":"M -1 0 L 0 0","filled":false,"size":64,"color":"#555","strokeWidth":0.9,"opacity":1},
   "encoding":{"x":{"field":"x","type":"quantitative"},"y":{"field":"yv","type":"quantitative"}}},
  {"transform":[{"fold":["ya","yb"],"as":["k","yv"]}],
   "mark":{"type":"text","angle":90,"baseline":"bottom","align":"center","dy":-1.5,"fontSize":5.5,"color":"#333"},
   "encoding":{"x":{"field":"x","type":"quantitative"},"y":{"aggregate":"mean","field":"yv","type":"quantitative"},"text":{"field":"lab"},"detail":{"field":"id"}}}
 ]}
],
"resolve":{"scale":{"y":"independent"}}
},
{
"width":114,"height":275,
"layer":[
{"data":{"name":"pts"},
 "transform":[{"filter":{"field":"p","equal":"Se"}},{"window":[{"op":"row_number","as":"rn"}]},{"joinaggregate":[{"op":"count","as":"nt"}],"groupby":["g","v"]},{"window":[{"op":"percent_rank","as":"pr"}],"sort":[{"field":"rn","order":"ascending"}],"groupby":["g","v"]}],
 "layer":[
  {"mark":{"type":"rule","color":"#c4c4c4","strokeDash":[3,2],"strokeWidth":1},
   "encoding":{"x":{"datum":0,"type":"quantitative","scale":{"domain":[0,20],"nice":false,"zero":false}}}},
  {"transform":[{"aggregate":[{"op":"q1","field":"v","as":"q1"},{"op":"q3","field":"v","as":"q3"}],"groupby":["g"]},{"filter":"datum.g !== 'Type IIα'"}],
   "mark":{"type":"bar","filled":false,"strokeWidth":1.5},
   "encoding":{"y":{"field":"g","type":"nominal","scale":{"type":"band","domain":["Type Iα","Type IIα","Type IIβ","Type IIγ"],"paddingInner":0.34,"paddingOuter":0.32},
     "axis":{"title":null,"offset":12,"labels":false,"domainColor":"#444","domainWidth":1.5,"tickColor":"#333","tickSize":3,"tickWidth":1}},
    "x":{"field":"q1","type":"quantitative"},"x2":{"field":"q3"},
    "color":{"field":"g","type":"nominal","scale":{"domain":["Type Iα","Type IIα","Type IIβ","Type IIγ"],"range":["#e56b74","#1fc98a","#a45ee8","#c71e67"]},"legend":null}}},
  {"transform":[{"aggregate":[{"op":"min","field":"v","as":"lo"},{"op":"max","field":"v","as":"hi"}],"groupby":["g"]}],
   "mark":{"type":"rule","strokeWidth":1.5},
   "encoding":{"y":{"field":"g","type":"nominal"},
    "x":{"field":"lo","type":"quantitative","axis":{"title":"Zone of inhibition (mm)","titleFontSize":7,"titleFontWeight":"normal","titlePadding":3,"titleColor":"#222","offset":13,"values":[0,5,10,15,20],"labelOverlap":false,"labelSeparation":0,"labelFontSize":5.5,"labelPadding":1,"labelColor":"#222","tickSize":4,"tickColor":"#222","tickWidth":0.8,"domainColor":"#222","domainWidth":1,"grid":false}},
    "x2":{"field":"hi"},"color":{"field":"g","type":"nominal","legend":null}}},
  {"transform":[{"aggregate":[{"op":"min","field":"v","as":"lo"},{"op":"max","field":"v","as":"hi"}],"groupby":["g"]},{"fold":["lo","hi"],"as":["k","w"]}],
   "mark":{"type":"tick","size":14,"thickness":1.5},
   "encoding":{"y":{"field":"g","type":"nominal"},"x":{"field":"w","type":"quantitative"},"color":{"field":"g","type":"nominal","legend":null}}},
  {"transform":[{"aggregate":[{"op":"median","field":"v","as":"med"}],"groupby":["g"]}],
   "mark":{"type":"tick","size":42,"thickness":1.5},
   "encoding":{"y":{"field":"g","type":"nominal"},"x":{"field":"med","type":"quantitative"},"color":{"field":"g","type":"nominal","legend":null}}},
  {"transform":[{"filter":"datum.nt > 1"}],
   "mark":{"type":"point","shape":"circle","filled":true,"size":26,"strokeWidth":0,"opacity":0.35},
   "encoding":{"y":{"field":"g","type":"nominal"},"x":{"field":"v","type":"quantitative"},
    "yOffset":{"field":"pr","type":"quantitative","scale":{"domain":[0,1],"range":[2,40]}},
    "color":{"field":"g","type":"nominal","legend":null}}},
  {"transform":[{"filter":"datum.nt > 1"}],
   "mark":{"type":"point","shape":"circle","filled":false,"size":26,"strokeWidth":0.9,"opacity":1},
   "encoding":{"y":{"field":"g","type":"nominal"},"x":{"field":"v","type":"quantitative"},
    "yOffset":{"field":"pr","type":"quantitative"},
    "color":{"field":"g","type":"nominal","legend":null}}},
  {"transform":[{"filter":"datum.nt === 1"}],
   "mark":{"type":"point","shape":"circle","filled":true,"size":26,"strokeWidth":0,"opacity":0.35},
   "encoding":{"y":{"field":"g","type":"nominal"},"x":{"field":"v","type":"quantitative"},"color":{"field":"g","type":"nominal","legend":null}}},
  {"transform":[{"filter":"datum.nt === 1"}],
   "mark":{"type":"point","shape":"circle","filled":false,"size":26,"strokeWidth":0.9,"opacity":1},
   "encoding":{"y":{"field":"g","type":"nominal"},"x":{"field":"v","type":"quantitative"},"color":{"field":"g","type":"nominal","legend":null}}}
 ]},
{"data":{"name":"brk"},
 "transform":[{"filter":{"field":"p","equal":"Se"}}],
 "layer":[
  {"mark":{"type":"rule","color":"#555","strokeWidth":0.9},
   "encoding":{"x":{"field":"x","type":"quantitative","scale":{"domain":[0,20],"nice":false,"zero":false}},"y":{"field":"ya","type":"quantitative","scale":{"domain":[-0.65,3.65],"reverse":true,"nice":false,"zero":false},"axis":null},"y2":{"field":"yb"}}},
  {"transform":[{"fold":["ya","yb"],"as":["k","yv"]}],
   "mark":{"type":"point","shape":"M -1 0 L 0 0","filled":false,"size":64,"color":"#555","strokeWidth":0.9,"opacity":1},
   "encoding":{"x":{"field":"x","type":"quantitative"},"y":{"field":"yv","type":"quantitative"}}},
  {"transform":[{"fold":["ya","yb"],"as":["k","yv"]}],
   "mark":{"type":"text","angle":90,"baseline":"bottom","align":"center","dy":-1.5,"fontSize":5.5,"color":"#333"},
   "encoding":{"x":{"field":"x","type":"quantitative"},"y":{"aggregate":"mean","field":"yv","type":"quantitative"},"text":{"field":"lab"},"detail":{"field":"id"}}}
 ]}
],
"resolve":{"scale":{"y":"independent"}}
}
]
}
]
}
